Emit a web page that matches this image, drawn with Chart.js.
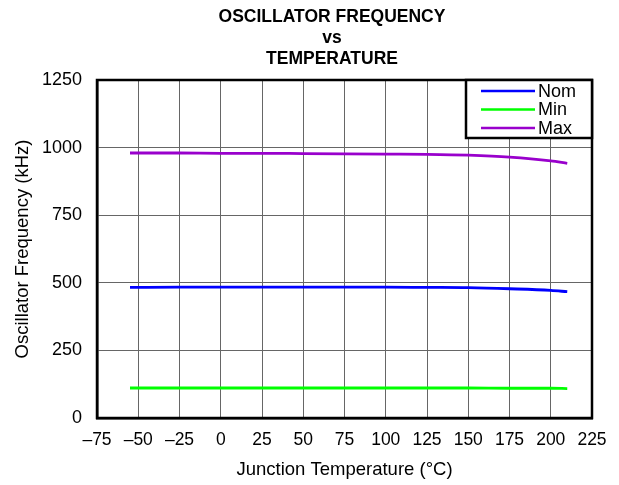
<!DOCTYPE html>
<html>
<head>
<meta charset="utf-8">
<script src="https://cdn.jsdelivr.net/npm/chart.js@4/dist/chart.umd.min.js"></script>
<style>
  html, body { margin: 0; padding: 0; background: #fff; }
  #wrap { width: 619px; height: 485px; }
</style>
</head>
<body>
<div id="wrap"><canvas id="c" width="619" height="485"></canvas></div>
<script>
// Junction temperature sample points (°C)
const temps = [-55, -25, 0, 25, 50, 75, 100, 125, 150, 175, 200, 210];
// Oscillator frequency (kHz) per corner
const nomFreq = [483, 484, 484, 484, 484, 484, 484, 483, 482, 478, 472, 467];
const minFreq = [111, 111, 111, 111, 111, 111, 111, 111, 111, 110, 110, 109];
const maxFreq = [980, 980, 979, 979, 978, 977, 976, 975, 972, 965, 951, 942];
const seriesNames = ['Nom', 'Min', 'Max'];
const seriesColors = ['#0000ff', '#00ff00', '#9900cc'];
const titleLines = ['OSCILLATOR FREQUENCY', 'vs', 'TEMPERATURE'];
const xTicks = [-75, -50, -25, 0, 25, 50, 75, 100, 125, 150, 175, 200, 225];
const yTicks = [0, 250, 500, 750, 1000, 1250];

const FONT = "'Liberation Sans', Arial, Helvetica, sans-serif";

function pts(vals) { return temps.map((t, i) => ({ x: t, y: vals[i] })); }

const frameAndLegend = {
  id: 'frameAndLegend',
  afterDraw(chart) {
    const ctx = chart.ctx;
    const a = chart.chartArea;
    ctx.save();
    // plot frame
    ctx.strokeStyle = '#000';
    ctx.lineWidth = 2.5;
    ctx.strokeRect(a.left, a.top, a.right - a.left, a.bottom - a.top);
    // legend box in upper-right corner
    const bw = 126, bh = 58;
    const bx = a.right - bw, by = a.top;
    ctx.fillStyle = '#fff';
    ctx.fillRect(bx, by, bw, bh);
    ctx.lineWidth = 2.5;
    ctx.strokeRect(bx, by, bw, bh);
    ctx.font = '18px ' + FONT;
    ctx.textBaseline = 'middle';
    ctx.textAlign = 'left';
    chart.data.datasets.forEach((ds, i) => {
      const yy = by + 11 + i * 18.5;
      ctx.strokeStyle = ds.borderColor;
      ctx.lineWidth = 2.5;
      ctx.beginPath();
      ctx.moveTo(bx + 15, yy);
      ctx.lineTo(bx + 69, yy);
      ctx.stroke();
      ctx.fillStyle = '#000';
      ctx.fillText(ds.label, bx + 72, yy + 1);
    });
    // title
    ctx.font = 'bold 17.5px ' + FONT;
    ctx.textAlign = 'center';
    ctx.fillStyle = '#000';
    titleLines.forEach((s, i) => ctx.fillText(s, 332, 17 + i * 21));
    ctx.restore();
  }
};

new Chart(document.getElementById('c'), {
  type: 'scatter',
  data: {
    datasets: [nomFreq, minFreq, maxFreq].map((v, i) => ({
      label: seriesNames[i],
      data: pts(v),
      showLine: true,
      borderColor: seriesColors[i],
      backgroundColor: seriesColors[i],
      borderWidth: 2.8,
      pointRadius: 0,
      cubicInterpolationMode: 'monotone'
    }))
  },
  options: {
    responsive: false,
    animation: false,
    events: [],
    layout: { padding: { top: 80, right: 27, left: 0, bottom: 0 } },
    plugins: { legend: { display: false }, title: { display: false }, tooltip: { enabled: false } },
    scales: {
      x: {
        type: 'linear', min: -75, max: 225,
        afterBuildTicks: s => { s.ticks = xTicks.map(v => ({ value: v })); },
        afterFit: s => { s.height = 67; },
        grid: { color: '#666', lineWidth: 1, drawTicks: false },
        border: { color: '#000', width: 2.5 },
        ticks: {
          padding: 12, color: '#000', font: { family: FONT, size: 17.5 },
          callback: v => String(v).replace('-', '\u2013')
        },
        title: { display: true, text: 'Junction Temperature (°C)', color: '#000',
                 font: { family: FONT, size: 18.5 }, padding: { top: 0, bottom: 4 } }
      },
      y: {
        type: 'linear', min: 0, max: 1250,
        afterBuildTicks: s => { s.ticks = yTicks.map(v => ({ value: v })); },
        afterFit: s => { s.width = 97; },
        grid: { color: '#666', lineWidth: 1, drawTicks: false },
        border: { color: '#000', width: 2.5 },
        ticks: { padding: 15, color: '#000', font: { family: FONT, size: 18 },
                 callback: v => String(v) },
        title: { display: true, text: 'Oscillator Frequency (kHz)', color: '#000',
                 font: { family: FONT, size: 18.5 }, padding: { top: 12, bottom: 0 } }
      }
    }
  },
  plugins: [frameAndLegend]
});
</script>
</body>
</html>
